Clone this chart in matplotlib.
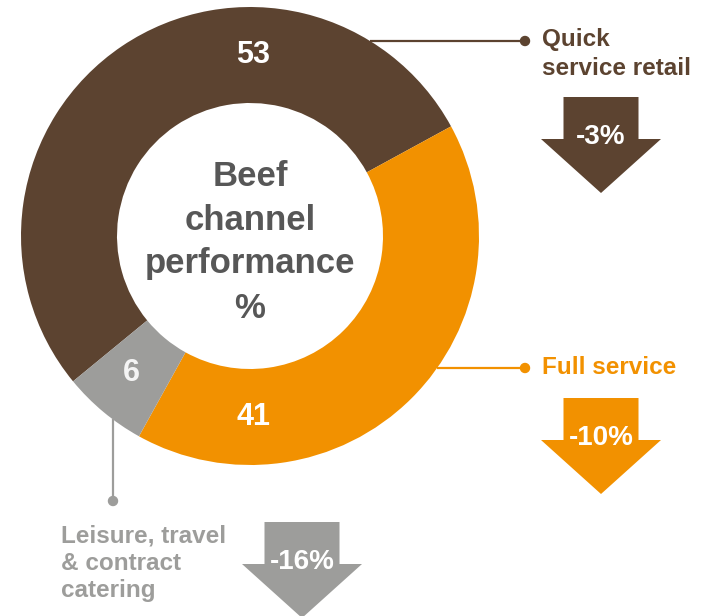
import matplotlib.pyplot as plt
from matplotlib.patches import Polygon, Circle
import numpy as np

plt.rcParams['font.family'] = ['Liberation Sans', 'DejaVu Sans']

W, H = 712, 616

# channel split of beef sales (%) and year-on-year change
channels = ['Quick\nservice retail', 'Full service', 'Leisure, travel\n& contract\ncatering']
shares = [53, 41, 6]
changes = ['-3%', '-10%', '-16%']
colors = ['#5C4330', '#F29100', '#9D9D9B']
title_lines = ['Beef', 'channel', 'performance', '%']

fig = plt.figure(figsize=(W / 100, H / 100), dpi=100)
ax = fig.add_axes([0, 0, 1, 1])

# everything is laid out in pixel units, y measured from the top
cx, cy = 250, 236
r_out, ring = 229, 96


def py(y):
    return H - y


ax.pie(shares, colors=colors, startangle=28.6 + 3.6 * shares[0],
       counterclock=False, center=(cx, py(cy)), radius=r_out,
       wedgeprops=dict(width=ring, linewidth=0))
ax.set_xlim(0, W)
ax.set_ylim(0, H)
ax.set_aspect('equal')
ax.axis('off')

# value labels inside the ring
label_angles = [89, -89, -131]
r_lab = 181
for val, ang, col in zip(shares, label_angles, ['white', 'white', '#F4F4F4']):
    a = np.deg2rad(ang)
    ax.text(cx + r_lab * np.cos(a), py(cy) + r_lab * np.sin(a), str(val),
            ha='center', va='center', color=col, fontsize=22, fontweight='bold')

# centre title
for i, line in enumerate(title_lines):
    ax.text(cx, py(176 + 44 * i), line, ha='center', va='center',
            color='#575757', fontsize=25, fontweight='bold')


def down_arrow(xc, ytop, color, text):
    sw, hw, sh, hh = 37.5, 60, 42, 54
    pts = [(xc - sw, ytop), (xc + sw, ytop), (xc + sw, ytop + sh),
           (xc + hw, ytop + sh), (xc, ytop + sh + hh), (xc - hw, ytop + sh),
           (xc - sw, ytop + sh)]
    ax.add_patch(Polygon([(x, py(y)) for x, y in pts], closed=True,
                         facecolor=color, edgecolor='none'))
    ax.text(xc, py(ytop + sh - 2), text, ha='center', va='center',
            color='white', fontsize=20, fontweight='bold')


def leader(x0, y0, x1, y1, color):
    ax.plot([x0, x1], [py(y0), py(y1)], color=color, lw=1.6,
            solid_capstyle='butt')
    ax.add_patch(Circle((x1, py(y1)), 4.5, color=color))


# Quick service retail
y = 41
x0 = cx + np.sqrt(r_out ** 2 - (cy - y) ** 2)
leader(x0, y, 525, y, colors[0])
ax.text(542, py(28), channels[0], ha='left', va='top', color=colors[0],
        fontsize=17.5, fontweight='bold', linespacing=1.32)
down_arrow(601, 97, colors[0], changes[0])

# Full service
y = 368
x0 = cx + np.sqrt(r_out ** 2 - (y - cy) ** 2)
leader(x0, y, 525, y, colors[1])
ax.text(542, py(368), channels[1], ha='left', va='center', color=colors[1],
        fontsize=17.5, fontweight='bold')
down_arrow(601, 398, colors[1], changes[1])

# Leisure, travel & contract catering
x = 113
y0 = cy + np.sqrt(r_out ** 2 - (cx - x) ** 2)
leader(x, y0, x, 501, colors[2])
ax.text(61, py(525), channels[2], ha='left', va='top', color=colors[2],
        fontsize=17.5, fontweight='bold', linespacing=1.22)
down_arrow(302, 522, colors[2], changes[2])

fig.savefig('out.png', dpi=100, facecolor='white')
